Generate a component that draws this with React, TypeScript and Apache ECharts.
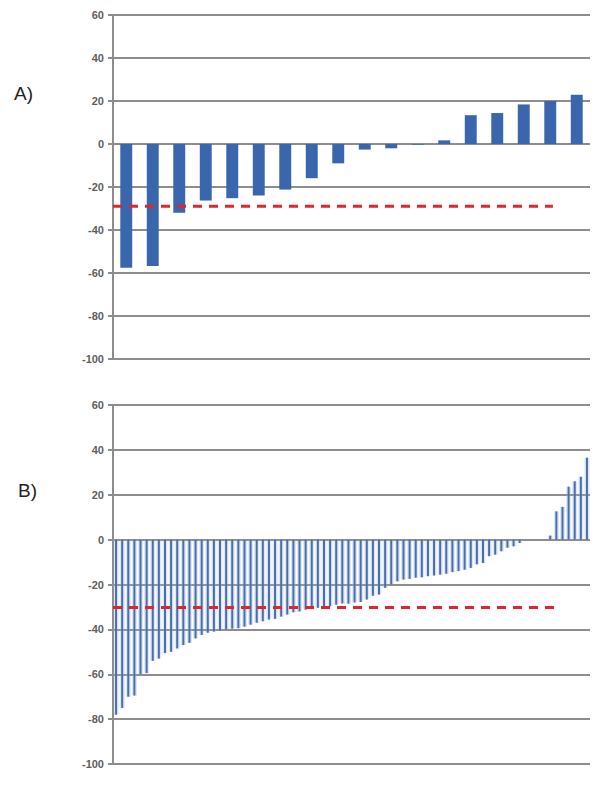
import React, { useEffect, useRef } from "react";
import * as echarts from "echarts";

// Panel A values (sorted)
const topValues = [-57.6, -56.7, -32, -26.3, -25.2, -24, -21.2, -15.9, -9, -2.6, -2, -0.3, 1.7, 13.4, 14.4, 18.4, 20, 22.9];
// Panel B values (sorted)
const bottomValues = [
  -78, -75, -70, -69.5, -60, -59.5, -54, -53, -50.5, -50,
  -48.5, -47, -46, -44, -42.5, -41.5, -41, -40.5, -40, -39.7,
  -39.5, -38.8, -37.9, -37, -36.4, -35.6, -35.3, -34.3, -33.4, -32.4,
  -32, -31.2, -31, -30.4, -30, -29.7, -29, -28.5, -28.5, -28,
  -27.8, -26.7, -25, -24.5, -21.5, -20, -18.6, -17.8, -17.5, -17,
  -16.8, -16.3, -16, -15.6, -15.2, -14.5, -14, -13.4, -12.6, -11,
  -10.4, -7.4, -6.7, -5.2, -3.6, -3, -1.5, 0, 0, 0,
  0, 1.8, 12.6, 14.6, 23.6, 26, 28, 36.5,
];
const topCategories = topValues.map((_, i) => String(i + 1));
const bottomCategories = bottomValues.map((_, i) => String(i + 1));

// Threshold reference lines (value, end position in category units)
const topThreshold = -29;
const topThresholdEnd = 16.6;
const bottomThreshold = -30.3;
const bottomThresholdEnd = 72.2;

const yMin = -100;
const yMax = 60;
const yInterval = 20;
const panelLabels = ["A)", "B)"];

const gridColor = "#8d8d8d";
const labelColor = "#5e5e5e";

function makeYAxis(gridIndex: number) {
  return {
    type: "value",
    gridIndex,
    min: yMin,
    max: yMax,
    interval: yInterval,
    axisLine: { show: true, lineStyle: { color: gridColor, width: 2 } },
    axisTick: { show: true, length: 5, lineStyle: { color: gridColor, width: 2 } },
    axisLabel: {
      color: labelColor,
      fontFamily: "Liberation Sans, Arial, sans-serif",
      fontSize: 11,
      fontWeight: "bold",
      margin: 9,
    },
    splitLine: { show: true, lineStyle: { color: gridColor, width: 2 } },
  };
}

function makeCatAxis(gridIndex: number, data: string[]) {
  return {
    type: "category",
    gridIndex,
    data,
    axisLine: { show: false },
    axisTick: { show: false },
    axisLabel: { show: false },
    splitLine: { show: false },
  };
}

function makeValXAxis(gridIndex: number, n: number) {
  return {
    type: "value",
    gridIndex,
    min: 0,
    max: n,
    show: false,
    splitLine: { show: false },
  };
}

export default function App() {
  const ref = useRef<HTMLDivElement>(null);
  useEffect(() => {
    if (!ref.current) return;
    const chart = echarts.init(ref.current, undefined, { renderer: "svg" });
    chart.setOption({
      animation: false,
      backgroundColor: "#ffffff",
      grid: [
        { left: 113, top: 15, width: 477, height: 344 },
        { left: 113, top: 405, width: 477, height: 359 },
      ],
      xAxis: [
        makeCatAxis(0, topCategories),
        makeValXAxis(0, topValues.length),
        makeCatAxis(1, bottomCategories),
        makeValXAxis(1, bottomValues.length),
        makeCatAxis(1, bottomCategories),
      ],
      yAxis: [makeYAxis(0), makeYAxis(1)],
      graphic: [
        {
          type: "text",
          left: 14,
          top: 84,
          style: { text: panelLabels[0], fontSize: 19, fontFamily: "Liberation Sans, Arial, sans-serif", fill: "#222" },
        },
        {
          type: "text",
          left: 18,
          top: 481,
          style: { text: panelLabels[1], fontSize: 19, fontFamily: "Liberation Sans, Arial, sans-serif", fill: "#222" },
        },
      ],
      series: [
        {
          type: "bar",
          xAxisIndex: 0,
          yAxisIndex: 0,
          data: topValues,
          barWidth: "45%",
          itemStyle: { color: "#3a66ad" },
        },
        {
          type: "line",
          xAxisIndex: 1,
          yAxisIndex: 0,
          data: [
            [0, topThreshold],
            [topThresholdEnd, topThreshold],
          ],
          symbol: "none",
          lineStyle: { color: "#e0262b", width: 3, type: [9, 7] },
          z: 5,
        },
        {
          type: "bar",
          xAxisIndex: 4,
          yAxisIndex: 1,
          data: bottomValues,
          barWidth: 5,
          itemStyle: { color: "rgba(150,190,235,0.35)" },
          z: 1,
        },
        {
          type: "bar",
          xAxisIndex: 2,
          yAxisIndex: 1,
          data: bottomValues,
          barWidth: 2,
          itemStyle: { color: "#4e6ca8" },
          z: 3,
        },
        {
          type: "line",
          xAxisIndex: 3,
          yAxisIndex: 1,
          data: [
            [0, bottomThreshold],
            [bottomThresholdEnd, bottomThreshold],
          ],
          symbol: "none",
          lineStyle: { color: "#e0262b", width: 3, type: [9, 7] },
          z: 5,
        },
      ],
    });
    return () => chart.dispose();
  }, []);
  return (
    <div
      ref={ref}
      style={{ position: "fixed", left: 0, top: 0, width: 602, height: 785, background: "#fff" }}
    />
  );
}
